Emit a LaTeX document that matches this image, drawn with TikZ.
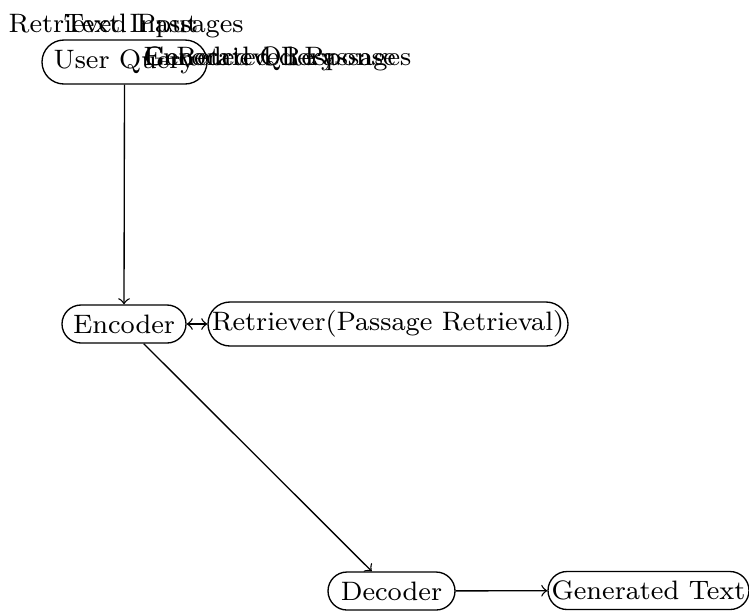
\documentclass[tikz,border=0pt]{standalone}
\begin{document}
\begin{tikzpicture}[x=0.3pt,y=-0.3pt,
  every node/.style={font=\fontsize{8}{10}\selectfont},
  block/.style={rectangle, draw, inner sep=1pt},
  tall/.style={minimum height=13.2pt, rounded corners=6.6pt},
  short/.style={minimum height=11.4pt, rounded corners=5.7pt},
  flow/.style={->},
  lbl/.style={inner sep=0pt}]
\useasboundingbox (0,0) rectangle (749,610);

% processing stages
\node[block, tall, minimum width=49.5pt]  (uq)  at (124.5,62) {User Query};
\node[block, short, minimum width=37.2pt] (enc) at (124,324)  {Encoder};
\node[block, tall, minimum width=108pt]   (ret) at (388,324)  {Retriever(Passage Retrieval)};
\node[block, short, minimum width=38.1pt] (dec) at (391.5,591) {Decoder};
\node[block, short, minimum width=60.3pt] (gen) at (648.5,590.5) {Generated Text};

% data-flow labels
\node[lbl, anchor=base west] (l1) at (8,32)   {Retrieved Passages};
\node[lbl, anchor=base west] (l2) at (63,32)  {Text Input};
\node[lbl, anchor=base west] (l3) at (143,65) {Encoded Query};
\node[lbl, anchor=base west] (l4) at (143,65) {Generated Response};
\node[lbl, anchor=base east] (l5) at (412,65) {Retrieved Passages};

% connectors
\draw[flow] (uq.south) -- (enc.north);
\draw[<->] (enc) -- (ret);
\draw[flow] (enc) -- (dec);
\draw[flow] (dec) -- (gen);
\end{tikzpicture}
\end{document}
